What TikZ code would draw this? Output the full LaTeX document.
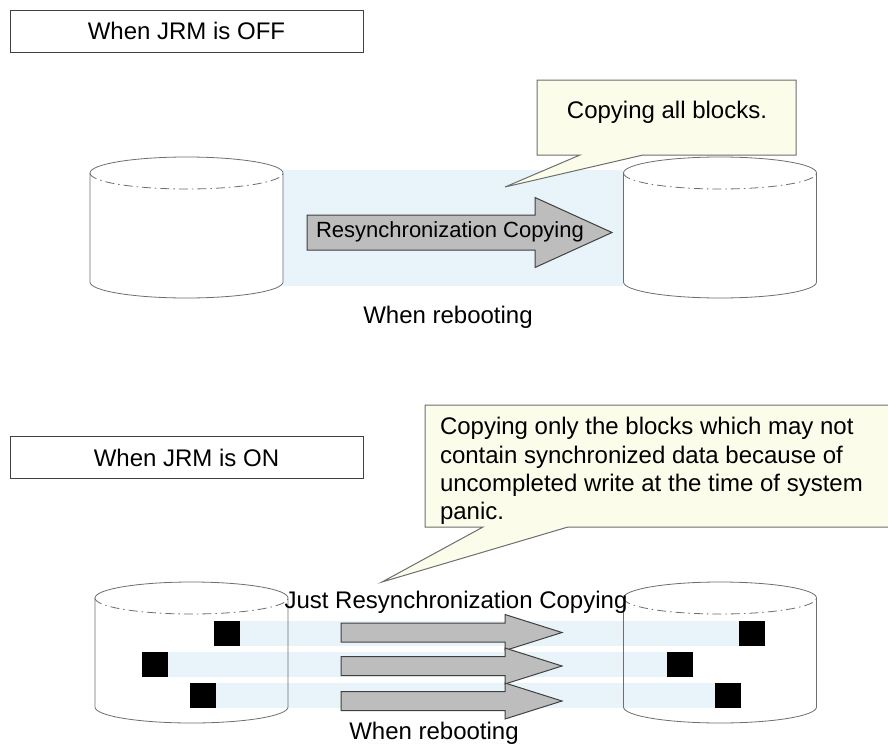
\documentclass[tikz,border=0pt]{standalone}
\usepackage{fontspec}
\setmainfont{Liberation Sans}

\definecolor{bandblue}{HTML}{E8F4FA}
\definecolor{notefill}{HTML}{FCFCEA}
\definecolor{arrowgray}{HTML}{BDBDBD}
\definecolor{edgegray}{HTML}{6E6E6E}

% disk: centre x, top y, bottom y
\newcommand{\diskfill}[3]{%
  \fill[white] (#1-96.5,#2) -- (#1-96.5,#3) arc[start angle=180, end angle=0, x radius=96.5, y radius=16]
    -- (#1+96.5,#2) arc[start angle=0, end angle=-180, x radius=96.5, y radius=16] -- cycle;}
\newcommand{\diskedge}[3]{%
  \draw[diskline] (#1-96.5,#2) -- (#1-96.5,#3) arc[start angle=180, end angle=0, x radius=96.5, y radius=16]
    -- (#1+96.5,#2) arc[start angle=0, end angle=-180, x radius=96.5, y radius=16];
  \draw[diskline, dash pattern=on 9pt off 4pt on 1.5pt off 4pt] (#1-96.5,#2) arc[start angle=180, end angle=0, x radius=96.5, y radius=16];}
% arrow: tail x, head x, tip x, centre y, shaft half, head half
\newcommand{\copyarrow}[6]{%
  \draw[copyshape] (#1,#4-#5) -- (#2,#4-#5) -- (#2,#4-#6) -- (#3,#4) -- (#2,#4+#6) -- (#2,#4+#5) -- (#1,#4+#5) -- cycle;}

\begin{document}
\begin{tikzpicture}[x=1pt, y=-1pt,
    every node/.style={font=\fontsize{24}{28.3}\selectfont, inner sep=0pt, outer sep=0pt},
    titlebox/.style={draw=black!75, line width=1pt, fill=white, minimum width=353, minimum height=42},
    diskline/.style={draw=edgegray, line width=0.8pt},
    copyshape/.style={draw=black!75, line width=1pt, fill=arrowgray, line join=miter},
    notebox/.style={draw=edgegray, line width=1pt, fill=notefill, line join=miter},
    block/.style={fill=black, minimum width=26, minimum height=25}]
    \useasboundingbox (0,0) rectangle (888,744);

    % JRM off
    \node[titlebox] (jrmoff) at (186.5,31) {When JRM is OFF};
    \fill[bandblue] (283,170) rectangle (623,286);
    \diskfill{186.5}{173}{282}
    \diskfill{720}{173}{282}
    \diskedge{186.5}{173}{282}
    \diskedge{720}{173}{282}
    \copyarrow{307}{535}{612}{232.5}{17.5}{35}
    \node[font=\fontsize{22}{26}\selectfont, anchor=base] (resync) at (450,237) {Resynchronization Copying};
    \node[anchor=base] (offreboot) at (448,323) {When rebooting};
    \draw[notebox] (537,80) -- (796,80) -- (796,155) -- (643,155) -- (505,187) -- (580,155) -- (537,155) -- cycle;
    \node[anchor=base] (allnote) at (667,118) {Copying all blocks.};

    % JRM on
    \node[titlebox] (jrmon) at (186.5,457.5) {When JRM is ON};
    \diskfill{191.5}{598}{707}
    \diskfill{720}{598}{707}
    \node[block] (lblk1) at (227,633.5) {};
    \node[block] (lblk2) at (155,664) {};
    \node[block] (lblk3) at (203,695.5) {};
    \node[block] (rblk1) at (751.5,633.5) {};
    \node[block] (rblk2) at (680,664) {};
    \node[block] (rblk3) at (727.5,695.5) {};
    \fill[bandblue] (lblk1.north east) rectangle (rblk1.south west);
    \fill[bandblue] (lblk2.north east) rectangle (rblk2.south west);
    \fill[bandblue] (lblk3.north east) rectangle (rblk3.south west);
    \diskedge{191.5}{598}{707}
    \diskedge{720}{598}{707}
    \copyarrow{341}{505}{562}{632.5}{9.5}{18}
    \copyarrow{341}{505}{562}{666}{9.5}{18}
    \copyarrow{341}{505}{562}{701}{9.5}{18}
    \node[anchor=base] (justresync) at (456,608) {Just Resynchronization Copying};
    \node[anchor=base] (onreboot) at (434,739) {When rebooting};
    \draw[notebox] (425,405) -- (892,405) -- (892,527) -- (568,527) -- (382,582) -- (483,527) -- (425,527) -- cycle;
    \node[anchor=north west, align=left] (panicnote) at (440,417.5) {Copying only the blocks which may not\\contain synchronized data because of\\uncompleted write at the time of system\\panic.};
\end{tikzpicture}
\end{document}
